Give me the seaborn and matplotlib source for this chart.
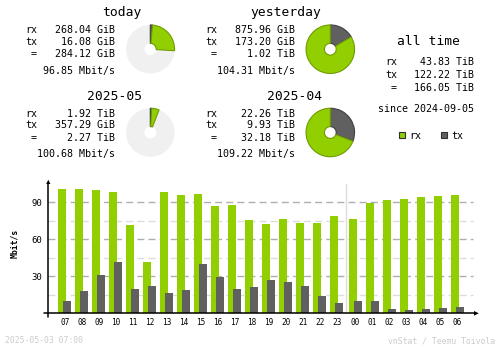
import numpy as np
import pandas as pd
import matplotlib
matplotlib.use("Agg")
import matplotlib.pyplot as plt
from matplotlib.patches import Polygon, Rectangle
import seaborn as sns

# ---- hourly average rates (Mbit/s), last 24 hours ----
hours = ["07", "08", "09", "10", "11", "12", "13", "14", "15", "16", "17", "18",
         "19", "20", "21", "22", "23", "00", "01", "02", "03", "04", "05", "06"]
rx_rate = [100.8, 100.8, 100.0, 98.4, 71.6, 41.6, 98.4, 96.0, 96.8, 87.0, 87.8, 75.7,
           72.4, 76.5, 73.2, 73.2, 78.9, 76.5, 89.5, 91.9, 92.7, 94.4, 95.2, 96.0]
tx_rate = [10.0, 18.1, 31.0, 41.6, 19.7, 22.1, 16.5, 18.9, 40.0, 29.5, 19.7, 21.3,
           27.0, 25.4, 22.1, 14.0, 8.3, 10.0, 10.0, 3.5, 2.7, 3.5, 4.3, 5.1]
new_day_index = 17  # first hour of the new day ("00")

# ---- summary periods ----
periods = ["today", "yesterday", "2025-05", "2025-04"]
rx_vol = [268.04, 875.96, 1.92, 22.26]
rx_unit = ["GiB", "GiB", "TiB", "TiB"]
tx_vol = [16.08, 173.20, 357.29, 9.93]
tx_unit = ["GiB", "GiB", "GiB", "TiB"]
tot_vol = [284.12, 1.02, 2.27, 32.18]
tot_unit = ["GiB", "TiB", "TiB", "TiB"]
avg_rate = [96.85, 104.31, 100.68, 109.22]
ring_fill = [0.26, 1.0, 0.059, 1.0]  # portion of the donut ring in use

alltime_rx, alltime_tx, alltime_tot = 43.83, 122.22, 166.05
since_date = "2024-09-05"
stamp = "2025-05-03 07:00"

RX = "#92CF00"
TX = "#606060"
RX_EDGE = "#6E9C00"
TX_EDGE = "#404040"
RING_BG = "#F0F0F0"
MONO = "DejaVu Sans Mono"

sns.set_theme(style="white")
plt.rcParams["font.family"] = [MONO, "DejaVu Sans"]
plt.rcParams["lines.scale_dashes"] = False

W, H = 500, 348
fig = plt.figure(figsize=(W / 100, H / 100), dpi=100)
fig.patch.set_facecolor("white")


def fig_rect(x0, y0, x1, y1):
    """Pixel box (top-left origin) -> figure-fraction rect."""
    return [x0 / W, 1 - y1 / H, (x1 - x0) / W, (y1 - y0) / H]


# ---- hourly bar chart ----
SLOT = 17.0
X0_PIX = 64.7
AX_L, AX_R, AX_B, AX_T = 48.3, 476.7, 313.3, 180.2
ax = fig.add_axes(fig_rect(AX_L, AX_T, AX_R, AX_B))
ax.set_facecolor("none")

idx = np.arange(len(hours))
pos = idx + 0.1 * (idx >= new_day_index)
half = 2.4 / SLOT
bar_w = 8.0 / SLOT

sns.barplot(x=pos - half, y=rx_rate, native_scale=True, orient="x", width=bar_w,
            color=RX, saturation=1, linewidth=0, errorbar=None, ax=ax, zorder=3)
sns.barplot(x=pos + half, y=tx_rate, native_scale=True, orient="x", width=bar_w,
            color=TX, saturation=1, linewidth=0, errorbar=None, ax=ax, zorder=4)

xmin = (AX_L - X0_PIX) / SLOT
xmax = (AX_R - X0_PIX) / SLOT
grid_end = (472.7 - X0_PIX) / SLOT
ax.set_xlim(xmin, xmax)
ax.set_ylim(0, 108)

for v in (15, 45, 75):
    ax.plot([xmin, grid_end], [v, v], color="#DCDCDC", lw=1.0,
            ls=(0, (5, 3)), zorder=1)
for v in (30, 60, 90):
    ax.plot([xmin, grid_end], [v, v], color="#AEAEAE", lw=1.0,
            ls=(0, (5, 3)), zorder=1)

sep_x = (pos[new_day_index - 1] + pos[new_day_index]) / 2
ax.plot([sep_x, sep_x], [0, 104.7], color="#DCDCDC", lw=1.0, zorder=2)

ax.set_xticks(pos)
ax.set_xticklabels(hours, fontsize=5.6, family=MONO)
ax.set_yticks([30, 60, 90])
ax.set_yticklabels(["30", "60", "90"], fontsize=6.5, family=MONO)
ax.tick_params(axis="x", length=0, pad=3.4, colors="black")
ax.tick_params(axis="y", length=0, pad=4.3, colors="black")
ax.set_xlabel("")
ax.set_ylabel("")
for s in ax.spines.values():
    s.set_visible(False)

# ---- overlay in pixel coordinates for text and decorations ----
ov = fig.add_axes([0, 0, 1, 1])
ov.set_xlim(0, W)
ov.set_ylim(H, 0)
ov.axis("off")
ov.set_facecolor("none")

# axis lines with arrow heads
ov.plot([AX_L, AX_L], [317.3, 182.5], color="black", lw=1.1, zorder=5)
ov.plot([44.3, 474.5], [AX_B, AX_B], color="black", lw=1.1, zorder=5)
ov.add_patch(Polygon([[46.2, 184], [50.4, 184], [48.3, 179.8]], closed=True,
                     color="black", lw=0, zorder=5))
ov.add_patch(Polygon([[474, 311.0], [474, 315.6], [478.8, AX_B]], closed=True,
                     color="black", lw=0, zorder=5))


def put(x, y, s, size, ha="left", color="black", weight="normal", **kw):
    ov.text(x, y, s, fontsize=size, ha=ha, va="baseline", color=color,
            family=MONO, weight=weight, **kw)


MAIN = 7.2
TITLE = 9.35

ov.text(14.5, 243, "Mbit/s", fontsize=5.9, weight="bold", family=MONO,
        rotation=90, ha="center", va="center", color="black")

# period blocks: 2 x 2 grid
col_dx = [0, 180, 0, 180]
row_y = [16.2, 16.2, 99.5, 99.5]
to_gib = {"GiB": 1.0, "TiB": 1024.0}

for i, name in enumerate(periods):
    dx, y0 = col_dx[i], row_y[i]
    put(141.7 + dx, y0, name, TITLE, ha="right")
    put(25 + dx, y0 + 17.1, "rx", MAIN)
    put(25 + dx, y0 + 28.8, "tx", MAIN)
    put(25 + dx, y0 + 41.1, " =", MAIN)
    put(115 + dx, y0 + 17.1, f"{rx_vol[i]:.2f} {rx_unit[i]}", MAIN, ha="right")
    put(115 + dx, y0 + 28.8, f"{tx_vol[i]:.2f} {tx_unit[i]}", MAIN, ha="right")
    put(115 + dx, y0 + 41.1, f"{tot_vol[i]:.2f} {tot_unit[i]}", MAIN, ha="right")
    put(115 + dx, y0 + 57.8, f"{avg_rate[i]:.2f} Mbit/s", MAIN, ha="right")

    # donut
    cx, cy, r = 150.3 + dx, y0 + 33.0, 25.0
    pa = fig.add_axes(fig_rect(cx - r, cy - r, cx + r, cy + r))
    ring = 1 - 6.5 / 24.5
    if ring_fill[i] < 1:
        pa.pie([1], colors=[RING_BG], radius=0.97, startangle=90,
               wedgeprops=dict(width=ring, linewidth=0))
    rx_g = rx_vol[i] * to_gib[rx_unit[i]]
    tx_g = tx_vol[i] * to_gib[tx_unit[i]]
    tot = rx_g + tx_g
    fracs = [ring_fill[i] * tx_g / tot, ring_fill[i] * rx_g / tot]
    wedges, _ = pa.pie(fracs, colors=[TX, RX], normalize=False, radius=0.97,
                       startangle=90, counterclock=False,
                       wedgeprops=dict(width=ring, linewidth=0.8))
    wedges[0].set_edgecolor(TX_EDGE)
    wedges[1].set_edgecolor(RX_EDGE)
    pa.set_xlim(-1, 1)
    pa.set_ylim(-1, 1)
    pa.set_aspect("equal")
    pa.axis("off")

# all time block
put(428.7, 45, "all time", TITLE, ha="center")
put(385, 65, "rx", MAIN)
put(385, 77.7, "tx", MAIN)
put(385, 91, " =", MAIN)
put(474, 65, f"{alltime_rx:.2f} TiB", MAIN, ha="right")
put(474, 77.7, f"{alltime_tx:.2f} TiB", MAIN, ha="right")
put(474, 91, f"{alltime_tot:.2f} TiB", MAIN, ha="right")
put(474, 111.7, f"since {since_date}", MAIN, ha="right")

# legend
ov.add_patch(Rectangle((399, 132.3), 6, 6, facecolor=RX, edgecolor="#303030",
                       lw=0.8, zorder=5))
put(409, 139.3, "rx", MAIN)
ov.add_patch(Rectangle((440.7, 132.3), 6, 6, facecolor=TX, edgecolor="#303030",
                       lw=0.8, zorder=5))
put(451, 139.3, "tx", MAIN)

# footer
put(5, 343.3, stamp, 5.9, color="#CCCCCC")
put(495, 343.3, "vnStat / Teemu Toivola", 5.9, ha="right", color="#CCCCCC")

fig.savefig("out.png", dpi=100, facecolor="white")
